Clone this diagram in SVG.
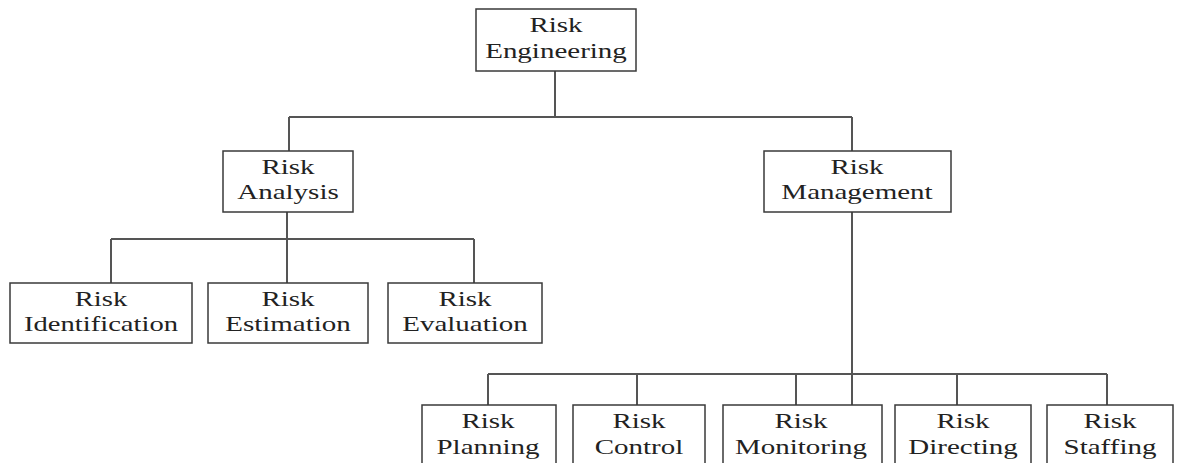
<svg xmlns="http://www.w3.org/2000/svg" width="1177" height="463" viewBox="0 0 1177 463">
<style>
.box{fill:#fff;stroke:#3a3a3a;stroke-width:1.5}
.c{fill:none;stroke:#555;stroke-width:2}
text{font-family:"Liberation Serif","Times New Roman",serif;font-size:20px;fill:#222;text-anchor:middle}
</style>
<rect width="1177" height="463" fill="#fff"/>
<g id="connectors">
<path class="c" d="M555,71V117M289,117H852M289,117V151M852,117V151"/>
<path class="c" d="M287,212V283M111,239H474M111,239V283M474,239V283"/>
<path class="c" d="M852,212V405M488,374H1107M488,374V405M637,374V405M796,374V405M957,374V405M1107,374V405"/>
</g>
<g id="risk-engineering"><rect class="box" x="476" y="9" width="160" height="62"/>
<text transform="translate(556,32) scale(1.45 1)">Risk</text><text transform="translate(556,58) scale(1.45 1)">Engineering</text></g>
<g id="risk-analysis"><rect class="box" x="223" y="151" width="130" height="61"/>
<text transform="translate(288,174) scale(1.45 1)">Risk</text><text transform="translate(288,199) scale(1.45 1)">Analysis</text></g>
<g id="risk-management"><rect class="box" x="764" y="151" width="187" height="61"/>
<text transform="translate(857,174) scale(1.45 1)">Risk</text><text transform="translate(857,199) scale(1.45 1)">Management</text></g>
<g id="risk-identification"><rect class="box" x="10" y="283" width="182" height="60"/>
<text transform="translate(101,306) scale(1.43 1)">Risk</text><text transform="translate(101,331) scale(1.43 1)">Identification</text></g>
<g id="risk-estimation"><rect class="box" x="208" y="283" width="160" height="60"/>
<text transform="translate(288,306) scale(1.45 1)">Risk</text><text transform="translate(288,331) scale(1.45 1)">Estimation</text></g>
<g id="risk-evaluation"><rect class="box" x="388" y="283" width="154" height="60"/>
<text transform="translate(465,306) scale(1.45 1)">Risk</text><text transform="translate(465,331) scale(1.45 1)">Evaluation</text></g>
<g id="risk-planning"><rect class="box" x="422" y="405" width="134" height="70"/>
<text transform="translate(488,428) scale(1.45 1)">Risk</text><text transform="translate(488,454) scale(1.45 1)">Planning</text></g>
<g id="risk-control"><rect class="box" x="573" y="405" width="132" height="70"/>
<text transform="translate(639,428) scale(1.45 1)">Risk</text><text transform="translate(639,454) scale(1.45 1)">Control</text></g>
<g id="risk-monitoring"><rect class="box" x="723" y="405" width="159" height="70"/>
<text transform="translate(801,428) scale(1.45 1)">Risk</text><text transform="translate(801,454) scale(1.45 1)">Monitoring</text></g>
<g id="risk-directing"><rect class="box" x="895" y="405" width="136" height="70"/>
<text transform="translate(963,428) scale(1.45 1)">Risk</text><text transform="translate(963,454) scale(1.45 1)">Directing</text></g>
<g id="risk-staffing"><rect class="box" x="1047" y="405" width="126" height="70"/>
<text transform="translate(1110,428) scale(1.45 1)">Risk</text><text transform="translate(1110,454) scale(1.45 1)">Staffing</text></g>
</svg>
